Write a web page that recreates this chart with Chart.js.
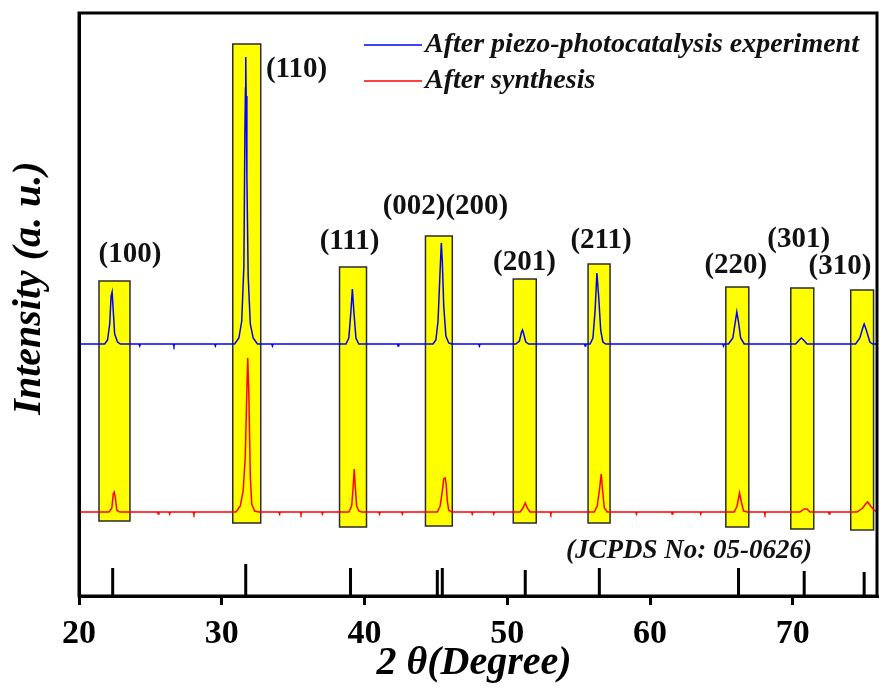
<!DOCTYPE html>
<html>
<head>
<meta charset="utf-8">
<script src="https://cdn.jsdelivr.net/npm/chart.js@4.4.1/dist/chart.umd.min.js"></script>
<style>
  html, body { margin: 0; padding: 0; background: #fff; }
  #xrd { display: block; }
</style>
</head>
<body>
<canvas id="xrd" width="879" height="688"></canvas>
<script>
/* XRD pattern — two scans, JCPDS sticks, highlighted reflections */

const SERIF = '"Liberation Serif", "Times New Roman", serif';

// scan after piezo-photocatalysis (2theta, counts)
const blueScan = [
  [20.0, 252], [21.8, 252], [22.0, 256], [22.15, 272], [22.25, 300], [22.32, 304], [22.4, 285], [22.5, 262], [22.7, 254], [22.9, 252],
  [24.2, 252], [24.25, 250], [24.3, 252], [26.6, 252], [26.65, 250], [26.7, 252], [29.5, 252], [29.55, 250], [29.6, 252],
  [30.9, 252], [31.2, 258], [31.4, 275], [31.55, 330], [31.62, 460], [31.66, 508], [31.68, 539], [31.71, 500], [31.76, 420],
  [31.85, 320], [32.0, 272], [32.2, 258], [32.5, 252], [33.5, 252], [33.55, 250], [33.6, 252],
  [38.7, 252], [38.9, 258], [39.05, 285], [39.15, 307], [39.25, 285], [39.4, 258], [39.6, 252],
  [42.3, 252], [42.35, 250], [42.4, 252],
  [44.8, 252], [45.0, 256], [45.15, 275], [45.28, 320], [45.38, 353], [45.45, 335], [45.55, 290], [45.7, 260], [45.9, 253], [46.1, 252],
  [48.0, 252], [48.05, 250], [48.1, 252],
  [50.6, 252], [50.85, 255], [51.0, 264], [51.07, 266], [51.15, 262], [51.3, 254], [51.5, 252],
  [55.4, 252], [55.45, 250], [55.5, 252],
  [55.8, 252], [56.0, 258], [56.15, 285], [56.28, 323], [56.4, 300], [56.55, 265], [56.7, 254], [56.9, 252],
  [65.1, 252], [65.15, 250], [65.2, 252],
  [65.5, 252], [65.8, 258], [65.95, 272], [66.08, 284], [66.2, 274], [66.35, 258], [66.6, 252],
  [70.2, 252], [70.45, 256], [70.6, 258], [70.75, 256], [71.0, 252],
  [74.4, 252], [74.7, 258], [74.9, 268], [75.0, 272], [75.15, 266], [75.4, 254], [75.6, 252], [75.9, 252]
];

// scan after synthesis
const redScan = [
  [20.0, 84], [22.1, 84], [22.3, 88], [22.4, 102], [22.47, 104], [22.55, 98], [22.65, 86], [22.85, 84],
  [25.5, 84], [25.55, 82], [25.6, 84], [26.3, 84], [26.35, 82], [26.4, 84], [28.0, 84], [28.05, 82], [28.1, 84],
  [31.0, 84], [31.3, 90], [31.5, 105], [31.65, 140], [31.75, 200], [31.82, 238], [31.9, 200], [32.0, 120], [32.1, 92], [32.3, 85], [32.6, 84],
  [34.0, 84], [34.05, 82], [34.1, 84], [35.5, 84], [35.55, 82], [35.6, 84], [37.0, 84], [37.05, 82], [37.1, 84],
  [38.9, 84], [39.1, 90], [39.2, 108], [39.28, 127], [39.35, 110], [39.45, 90], [39.6, 85], [39.8, 84],
  [41.0, 84], [41.05, 82], [41.1, 84], [42.6, 84], [42.65, 82], [42.7, 84],
  [45.1, 84], [45.3, 90], [45.45, 105], [45.55, 117], [45.65, 118], [45.72, 112], [45.8, 95], [45.9, 86], [46.1, 84],
  [47.5, 84], [47.55, 82], [47.6, 84], [49.0, 84], [49.05, 82], [49.1, 84],
  [50.9, 84], [51.1, 88], [51.26, 93], [51.4, 88], [51.6, 84],
  [53.0, 84], [53.05, 82], [53.1, 84],
  [56.1, 84], [56.3, 90], [56.45, 105], [56.58, 122], [56.68, 105], [56.8, 88], [57.0, 84],
  [59.0, 84], [59.05, 82], [59.1, 84], [61.5, 84], [61.55, 82], [61.6, 84], [63.5, 84], [63.55, 82], [63.6, 84],
  [65.9, 84], [66.1, 90], [66.27, 103], [66.4, 94], [66.55, 85], [66.8, 84],
  [68.0, 84], [68.05, 82], [68.1, 84],
  [70.5, 84], [70.8, 87], [71.0, 87], [71.2, 84],
  [72.5, 84], [72.55, 82], [72.6, 84],
  [74.5, 84], [74.9, 88], [75.1, 92], [75.25, 94], [75.45, 90], [75.7, 86], [75.9, 84]
];

// JCPDS 05-0626 reference positions and stick heights
const refPos = [22.36, 31.68, 39.02, 45.1, 45.45, 51.26, 56.45, 66.2, 70.8, 75.0];
const refHeight = [28, 32, 28, 26, 28, 26, 28, 28, 25, 24];

// highlighted reflection windows: 2theta from / to, intensity bottom / top
const boxFrom = [21.4, 30.77, 38.25, 44.27, 50.42, 55.66, 65.31, 69.86, 74.06];
const boxTo   = [23.57, 32.73, 40.14, 46.15, 52.03, 57.2, 66.92, 71.47, 75.66];
const boxLow  = [75, 73, 69, 70, 73, 73, 69, 67, 66];
const boxHigh = [315, 552, 329, 360, 317, 332, 309, 308, 306];

// Miller indices and where they sit
const hklText = ['(100)', '(110)', '(111)', '(002)(200)', '(201)', '(211)', '(220)', '(301)', '(310)'];
const hklX = [23.57, 35.24, 38.95, 45.67, 51.2, 56.57, 66.01, 70.42, 73.3];
const hklY = [341, 526, 354, 389, 333, 355, 330, 356, 329];

const seriesNames = ['After piezo-photocatalysis experiment', 'After synthesis'];
const xTicks = [20, 30, 40, 50, 60, 70];

const toPoints = (arr) => arr.map(([x, y]) => ({ x, y }));

function stickPoints() {
  const pts = [];
  refPos.forEach((p, i) => {
    pts.push({ x: p, y: 0 }, { x: p, y: refHeight[i] }, { x: p, y: null });
  });
  return pts;
}

// yellow windows under the scans
const boxesPlugin = {
  id: 'boxes',
  beforeDatasetsDraw(chart) {
    const { ctx, scales: { x, y } } = chart;
    ctx.save();
    boxFrom.forEach((from, i) => {
      const x0 = x.getPixelForValue(from);
      const x1 = x.getPixelForValue(boxTo[i]);
      const y0 = y.getPixelForValue(boxHigh[i]);
      const y1 = y.getPixelForValue(boxLow[i]);
      ctx.fillStyle = '#FFFF00';
      ctx.fillRect(x0, y0, x1 - x0, y1 - y0);
      ctx.strokeStyle = '#2b2b2b';
      ctx.lineWidth = 1.5;
      ctx.strokeRect(x0, y0, x1 - x0, y1 - y0);
    });
    ctx.restore();
  }
};

// frame, axis titles, indices, legend and card note
const annotatePlugin = {
  id: 'annotate',
  afterDraw(chart) {
    const { ctx, chartArea: a, scales: { x, y } } = chart;
    ctx.save();

    ctx.strokeStyle = '#000';
    ctx.lineWidth = 3;
    ctx.strokeRect(a.left, a.top, a.right - a.left, a.bottom - a.top);

    ctx.fillStyle = '#000';
    ctx.textAlign = 'center';
    ctx.textBaseline = 'middle';

    // axis titles
    ctx.font = `italic bold 40px ${SERIF}`;
    ctx.fillText('2 \u03B8(Degree)', 474, 664);
    ctx.save();
    ctx.translate(30, 288);
    ctx.rotate(-Math.PI / 2);
    ctx.font = `italic bold 40px ${SERIF}`;
    ctx.fillText('Intensity (a. u.)', 0, 0);
    ctx.restore();

    ctx.fillStyle = '#111';
    ctx.font = `bold 29px ${SERIF}`;
    hklText.forEach((t, i) => {
      ctx.fillText(t, x.getPixelForValue(hklX[i]), y.getPixelForValue(hklY[i]));
    });

    // legend
    const colors = ['#0000FF', '#FF0000'];
    ctx.font = `italic bold 28px ${SERIF}`;
    ctx.textAlign = 'left';
    seriesNames.forEach((name, i) => {
      const ly = a.top + 32 + i * 36;
      ctx.strokeStyle = colors[i];
      ctx.lineWidth = 1.5;
      ctx.beginPath();
      ctx.moveTo(364, ly);
      ctx.lineTo(422, ly);
      ctx.stroke();
      ctx.fillText(name, 425, ly);
    });

    ctx.font = `italic bold 27px ${SERIF}`;
    ctx.textAlign = 'right';
    ctx.fillText('(JCPDS No: 05-0626)', 812, 551);
    ctx.restore();
  }
};

new Chart(document.getElementById('xrd'), {
  type: 'scatter',
  data: {
    datasets: [
      {
        label: seriesNames[0],
        data: toPoints(blueScan),
        showLine: true,
        borderColor: '#0000FF',
        borderWidth: 1.5,
        pointRadius: 0,
        tension: 0
      },
      {
        label: seriesNames[1],
        data: toPoints(redScan),
        showLine: true,
        borderColor: '#FF0000',
        borderWidth: 1.5,
        pointRadius: 0,
        tension: 0
      },
      {
        label: 'JCPDS',
        data: stickPoints(),
        showLine: true,
        spanGaps: false,
        borderColor: '#000',
        borderWidth: 3,
        pointRadius: 0
      }
    ]
  },
  options: {
    responsive: false,
    animation: false,
    layout: { padding: { top: 13, right: 2, left: 0, bottom: 0 } },
    plugins: {
      legend: { display: false },
      tooltip: { enabled: false }
    },
    scales: {
      x: {
        type: 'linear',
        min: 20,
        max: 75.9,
        afterFit: (s) => { s.height = 92; },
        afterBuildTicks: (s) => { s.ticks = xTicks.map(v => ({ value: v })); },
        border: { display: true, color: '#000', width: 3 },
        grid: { display: true, drawOnChartArea: false, drawTicks: true, tickLength: 9, lineWidth: 3, color: '#000' },
        ticks: { color: '#000', padding: 9, font: { family: SERIF, size: 34, weight: 'bold' } }
      },
      y: {
        type: 'linear',
        min: 0,
        max: 583,
        afterFit: (s) => { s.width = 79; },
        border: { display: true, color: '#000', width: 3 },
        grid: { display: false },
        ticks: { display: false }
      }
    }
  },
  plugins: [boxesPlugin, annotatePlugin]
});
</script>
</body>
</html>
